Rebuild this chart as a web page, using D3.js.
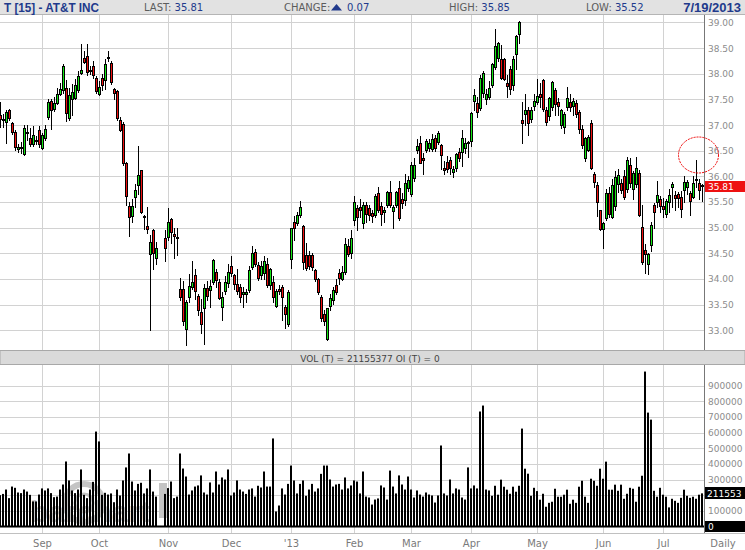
<!DOCTYPE html>
<html>
<head>
<meta charset="utf-8">
<script src="https://cdn.jsdelivr.net/npm/d3@7"></script>
<style>
  body { margin: 0; background: #fff; }
  svg { display: block; font-family: "DejaVu Sans", Verdana, sans-serif; }
</style>
</head>
<body>
<svg id="chart" width="745" height="550"></svg>
<script>
// T daily candles + volume

// trading calendar (Sandy closure days kept as empty slots)
const firstDay = new Date(2012, 7, 14);
const lastDay = new Date(2013, 6, 19);
const holidays = ["2012-09-03", "2012-11-22", "2012-12-25", "2013-01-01", "2013-01-21",
                  "2013-02-18", "2013-03-29", "2013-05-27", "2013-07-04"];

// [open, high, low, close], null = no trading
const candles = [
  [37.20,37.45,36.96,37.12],[37.10,37.22,36.96,37.12],[37.06,37.30,36.65,37.26],[37.29,37.31,37.10,37.14],
  [37.03,37.05,36.82,36.87],[36.87,36.90,36.52,36.57],[36.53,36.62,36.48,36.57],[36.55,36.66,36.45,36.57],
  [36.44,37.00,36.42,36.95],[36.84,37.00,36.70,36.86],[36.74,36.95,36.60,36.63],[36.63,36.98,36.60,36.80],
  [36.70,36.78,36.62,36.71],[36.90,36.98,36.58,36.62],[36.55,36.85,36.53,36.80],[36.75,37.00,36.70,36.93],
  [37.16,37.50,37.12,37.44],[37.46,37.50,36.92,37.29],[37.31,37.55,37.28,37.42],[37.42,37.72,37.40,37.61],
  [37.61,37.82,37.58,37.71],[37.68,38.18,37.62,38.15],[37.73,37.88,37.08,37.24],[37.13,37.72,37.10,37.58],
  [37.50,37.80,37.20,37.65],[37.53,37.90,37.50,37.77],[37.68,38.05,37.65,37.95],[38.02,38.58,38.00,38.08],
  [38.30,38.45,38.20,38.23],[38.34,38.58,37.98,38.03],[38.06,38.15,38.00,38.07],[38.15,38.25,37.92,37.98],
  [37.91,37.95,37.62,37.66],[37.61,37.85,37.58,37.74],[37.92,38.00,37.68,37.77],[37.87,38.28,37.70,38.19],
  [38.32,38.45,38.25,38.33],[38.20,38.25,37.80,37.84],[37.71,37.72,37.50,37.63],[37.66,37.68,37.10,37.13],
  [37.09,37.15,36.88,36.91],[37.02,37.05,36.22,36.25],[36.25,36.27,35.45,35.61],[35.42,35.50,34.84,35.20],
  [35.22,35.55,35.10,35.42],[35.59,35.85,35.40,35.73],[35.83,36.59,35.65,36.02],[36.12,36.13,35.28,35.31],
  [35.20,35.25,34.98,35.22],[35.03,35.40,34.90,34.97],[34.48,34.85,33.01,34.72],[34.95,34.97,34.20,34.50],
  [34.40,34.72,34.30,34.60],null,null,[34.80,34.95,34.35,34.60],
  [34.82,35.38,34.75,35.10],[35.16,35.18,34.70,34.92],[34.88,35.00,34.40,34.83],[34.82,35.00,34.47,34.80],
  [33.81,34.02,33.58,33.64],[33.81,33.95,33.10,33.18],[33.02,33.58,32.72,33.55],[33.65,34.10,33.55,33.87],
  [33.84,34.34,33.80,33.94],[34.07,34.20,33.60,33.77],[33.66,33.70,33.30,33.39],[33.36,33.60,32.95,33.13],
  [33.44,33.90,32.73,33.83],[33.83,33.95,33.58,33.66],[33.79,33.98,33.45,33.86],[33.94,34.38,33.90,34.36],
  [34.13,34.20,33.85,33.97],[33.94,34.00,33.60,33.62],[33.45,33.75,33.20,33.64],[33.77,34.05,33.70,33.93],
  [33.92,34.30,33.85,34.14],[34.25,34.45,34.05,34.12],[34.07,34.10,33.80,33.90],[33.91,34.20,33.70,33.77],
  [33.84,33.90,33.55,33.64],[33.70,33.85,33.45,33.74],[33.70,33.80,33.55,33.74],[33.79,34.25,33.75,34.17],
  [34.24,34.65,34.20,34.50],[34.52,34.58,34.25,34.30],[34.27,34.32,33.98,34.01],[34.07,34.35,34.00,34.25],
  [34.12,34.45,34.00,34.34],[34.30,34.40,33.85,33.89],[33.88,34.22,33.80,34.19],[33.94,34.05,33.55,33.65],
  [33.47,33.80,33.45,33.76],[33.80,33.88,33.70,33.77],[33.84,33.88,33.19,33.65],[33.46,33.50,33.05,33.31],
  [33.12,33.78,33.08,33.74],[34.38,35.00,34.21,35.00],[35.10,35.22,34.75,35.00],[35.09,35.30,35.05,35.24],
  [35.24,35.52,35.20,35.41],[35.03,35.05,34.20,34.33],[34.46,34.70,34.18,34.21],[34.46,34.55,34.20,34.25],
  [34.46,34.50,34.18,34.24],[34.17,34.20,33.95,34.00],[34.00,34.02,33.70,33.75],[33.64,33.68,33.18,33.23],
  [33.31,33.40,33.10,33.18],[32.82,33.44,32.80,33.44],[33.47,33.70,33.40,33.62],[33.59,33.85,33.52,33.79],
  [33.88,34.00,33.70,33.74],[34.12,34.20,33.90,34.01],[34.00,34.25,33.98,34.14],[34.14,34.80,34.10,34.69],
  [34.64,34.78,34.45,34.48],[34.50,34.95,34.40,34.79],[35.14,35.62,35.05,35.50],[35.39,35.45,34.95,35.21],
  [35.40,35.55,35.20,35.34],[35.08,35.50,35.00,35.44],[35.45,35.50,35.10,35.26],[35.39,35.45,35.15,35.24],
  [35.28,35.35,35.10,35.22],[35.24,35.65,35.20,35.61],[35.68,35.80,35.30,35.34],[35.43,35.50,35.05,35.27],
  [35.30,35.40,35.10,35.35],[35.45,35.72,35.40,35.70],[35.70,35.90,35.40,35.45],[35.33,35.45,35.00,35.41],
  [35.44,35.72,35.40,35.70],[35.78,35.90,35.15,35.18],[35.55,35.68,35.38,35.47],[35.53,36.05,35.45,35.86],
  [35.77,36.00,35.72,35.92],[35.66,36.28,35.62,36.22],[35.97,36.35,35.90,36.23],[36.51,36.72,36.45,36.59],
  [36.64,36.78,36.25,36.26],[36.36,36.45,36.05,36.32],[36.52,36.72,36.48,36.68],[36.56,36.72,36.50,36.65],
  [36.54,36.82,36.50,36.72],[36.74,36.80,36.50,36.56],[36.66,36.88,36.62,36.85],[36.61,36.62,36.15,36.41],
  [36.17,36.30,36.05,36.13],[36.28,36.40,36.08,36.14],[36.32,36.38,36.05,36.17],[36.09,36.20,35.98,36.15],
  [36.17,36.45,36.10,36.43],[36.47,36.55,36.30,36.36],[36.48,36.90,36.20,36.74],[36.55,36.75,36.45,36.65],
  [36.64,36.68,36.38,36.67],[36.68,37.25,36.60,37.24],[37.46,37.70,37.30,37.58],[37.42,37.55,37.15,37.26],
  [37.33,37.98,37.30,37.92],[37.63,38.05,37.55,38.02],[37.50,37.70,37.40,37.61],[37.55,37.85,37.50,37.73],
  [37.78,38.20,37.75,38.18],[38.13,38.88,38.10,38.54],[38.30,38.62,38.25,38.59],[38.28,38.55,37.90,37.92],
  [38.28,38.30,37.88,37.90],[37.81,37.98,37.55,37.76],[38.10,38.15,37.60,37.71],[37.78,38.35,37.68,38.28],
  [38.39,38.75,38.10,38.73],[38.78,39.02,38.60,39.01],[37.09,37.44,36.64,37.03],[37.22,37.60,37.00,37.29],
  [37.29,37.35,36.80,37.03],[37.11,37.35,37.05,37.30],[37.37,37.60,37.30,37.46],[37.44,37.90,37.40,37.56],
  [37.61,37.82,37.35,37.54],[37.87,37.90,37.28,37.32],[37.29,37.35,37.00,37.06],[37.17,37.55,37.10,37.52],
  [37.35,37.86,37.30,37.84],[37.68,37.72,37.20,37.41],[37.44,37.52,37.20,37.37],[37.00,37.32,36.95,37.30],
  [36.97,37.25,36.85,37.22],[37.35,37.75,37.30,37.53],[37.45,37.60,37.28,37.35],[37.38,37.52,37.20,37.46],
  [37.42,37.48,37.15,37.21],[37.25,37.30,36.85,36.93],[36.93,37.00,36.55,36.61],[36.35,36.76,36.30,36.74],
  [36.52,36.80,36.50,36.76],[37.04,37.10,36.15,36.17],[36.05,36.08,35.80,35.89],[35.84,35.88,35.22,35.50],
  [35.34,35.35,34.95,34.98],[34.98,35.10,34.60,35.08],[35.19,35.75,35.15,35.68],[35.67,35.80,35.20,35.26],
  [35.21,35.95,35.18,35.83],[35.42,36.10,35.35,35.99],[35.85,36.15,35.70,36.02],[35.86,35.95,35.68,35.74],
  [36.00,36.12,35.55,35.60],[35.76,36.38,35.70,36.31],[36.22,36.35,35.80,35.86],[35.76,36.10,35.55,36.07],
  [35.85,36.38,35.80,36.16],[36.07,36.12,35.22,35.24],[35.01,35.45,34.30,34.33],[34.56,34.68,34.12,34.48],
  [34.30,34.50,34.10,34.48],[34.66,35.10,34.55,35.05],[35.44,35.48,35.00,35.31],[35.50,35.90,35.40,35.63],
  [35.55,35.62,35.30,35.42],[35.42,35.58,35.20,35.36],[35.27,35.55,35.20,35.52],[35.49,35.75,35.30,35.63],
  [35.79,35.88,35.40,35.85],[35.63,35.72,35.35,35.58],[35.65,35.70,35.40,35.57],[35.60,35.72,35.20,35.37],
  [35.74,36.00,35.50,35.88],[35.80,35.92,35.65,35.88],[35.68,35.72,35.25,35.52],[35.60,36.00,35.58,35.87],
  [35.93,36.32,35.80,35.95],[35.87,35.95,35.55,35.74],[35.84,35.85,35.52,35.81]
];

// volume, thousands
const volumes = [
  200,208,236,181,255,247,217,213,236,223,202,160,160,204,243,230,243,213,187,191,
  236,268,415,294,230,213,236,364,202,181,236,285,606,543,202,215,204,211,155,236,
  198,294,377,466,287,230,272,279,211,243,364,223,191,null,null,208,245,287,181,191,
  466,370,319,204,230,255,262,326,217,204,281,217,351,268,313,300,364,198,217,294,
  236,223,208,236,243,191,260,249,351,255,255,562,96,134,243,204,272,389,294,211,
  272,294,196,236,272,223,243,336,389,389,300,255,268,272,236,313,243,262,294,287,
  211,351,191,185,140,172,179,262,249,172,357,255,211,326,268,236,319,236,185,230,
  204,191,217,204,198,153,198,517,211,198,300,211,243,236,185,172,377,243,262,243,
  734,772,236,230,196,260,203,299,254,235,209,254,222,260,625,369,337,196,247,226,
  171,209,126,151,158,241,190,190,203,235,145,171,151,254,292,190,151,305,292,260,
  369,305,414,235,235,267,228,267,177,209,247,241,158,254,324,989,727,682,228,190,
  247,203,190,122,177,164,151,183,235,196,183,190,177,203,211.553
];

const priceTicks = [33, 33.5, 34, 34.5, 35, 35.5, 36, 36.5, 37, 37.5, 38, 38.5, 39];
const volTicks = [100, 200, 300, 400, 500, 600, 700, 800, 900];
// 200000 sits under the last-volume box in the reference
const volLabels = [100, 300, 400, 500, 600, 700, 800, 900];
const monthLabels = ["Sep", "Oct", "Nov", "Dec", "'13", "Feb", "Mar", "Apr", "May", "Jun", "Jul"];

const lastPrice = 35.81, lastVol = 211.553;

const fmtDay = d3.timeFormat("%Y-%m-%d");
const days = d3.timeDay.range(firstDay, d3.timeDay.offset(lastDay, 1))
  .filter(d => d.getDay() % 6 !== 0 && !holidays.includes(fmtDay(d)));

const monthStarts = days.map((d, i) => i).filter(i => i > 0 && days[i].getMonth() !== days[i - 1].getMonth());

const svg = d3.select("#chart");
const plotRight = 704;
const pTop = 15, pBottom = 350, vTop = 365, vBottom = 533;
const gridColor = "#d2d2d2";
const blue = "#213a8c";

const x = d3.scaleBand().domain(d3.range(days.length)).range([-1, plotRight]);
const cx = i => x(i) + 1.5;
const y = d3.scaleLinear().domain([33, 39]).range([330.2, 22.4]);
const yv = d3.scaleLinear().domain([0, 900]).range([526.5, 385.5]);

svg.append("defs").append("clipPath").attr("id", "pclip")
  .append("rect").attr("x", 0).attr("y", pTop).attr("width", plotRight).attr("height", pBottom - pTop);

// header
svg.append("rect").attr("x", 0).attr("y", 0).attr("width", 745).attr("height", pTop).attr("fill", "#e2e2e2");
svg.append("line").attr("x1", 0).attr("x2", 745).attr("y1", pTop - 0.5).attr("y2", pTop - 0.5).attr("stroke", "#b5b5b5");

svg.append("text").attr("x", 4).attr("y", 12)
  .attr("font-family", "'Liberation Sans', Arial, sans-serif").attr("font-weight", "bold").attr("font-size", 13)
  .attr("textLength", 95).attr("lengthAdjust", "spacingAndGlyphs")
  .attr("fill", blue).text("T [15] - AT&T INC");

const headItems = [
  { x: 144, label: "LAST:", value: "35.81" },
  { x: 449, label: "HIGH:", value: "35.85" },
  { x: 586, label: "LOW:", value: "35.52" }
];
headItems.forEach(h => {
  const t = svg.append("text").attr("x", h.x).attr("y", 11).attr("font-size", 10);
  t.append("tspan").attr("fill", "#5c5c5c").text(h.label + " ");
  t.append("tspan").attr("fill", blue).text(h.value);
});
svg.append("text").attr("x", 284).attr("y", 11).attr("font-size", 10).attr("fill", "#5c5c5c").text("CHANGE:");
svg.append("path").attr("d", "M331,10.5 L342,10.5 L336.5,4 Z").attr("fill", blue);
svg.append("text").attr("x", 347).attr("y", 11).attr("font-size", 10).attr("fill", blue).text("0.07");
svg.append("text").attr("x", 741).attr("y", 12).attr("text-anchor", "end")
  .attr("font-family", "'Liberation Sans', Arial, sans-serif").attr("font-weight", "bold").attr("font-size", 13)
  .attr("fill", blue).text("7/19/2013");

// price grid
const pg = svg.append("g");
pg.selectAll("line.h").data(priceTicks).join("line")
  .attr("x1", 0).attr("x2", plotRight)
  .attr("y1", d => Math.round(y(d)) + 0.5).attr("y2", d => Math.round(y(d)) + 0.5)
  .attr("stroke", gridColor);
pg.selectAll("line.v").data(monthStarts).join("line")
  .attr("x1", d => cx(d)).attr("x2", d => cx(d))
  .attr("y1", pTop).attr("y2", pBottom)
  .attr("stroke", gridColor);

// candles
const bars = candles.map((c, i) => c ? { i, o: c[0], h: c[1], l: c[2], c: c[3] } : null).filter(d => d);
const cg = svg.append("g").attr("clip-path", "url(#pclip)");
cg.selectAll("line.wick").data(bars).join("line")
  .attr("x1", d => cx(d.i)).attr("x2", d => cx(d.i))
  .attr("y1", d => Math.round(y(d.h))).attr("y2", d => Math.round(y(d.l)) + 1)
  .attr("stroke", "#000");
cg.selectAll("rect.body").data(bars).join("rect")
  .attr("x", d => x(d.i) + 0.5)
  .attr("width", 2)
  .attr("y", d => Math.round(y(Math.max(d.o, d.c))) + 0.5)
  .attr("height", d => Math.max(1, Math.round(y(Math.min(d.o, d.c))) - Math.round(y(Math.max(d.o, d.c)))))
  .attr("fill", d => d.c >= d.o ? "#14e614" : "#ee1111")
  .attr("stroke", "#000").attr("stroke-width", 1);

// price axis
svg.append("line").attr("x1", plotRight + 0.5).attr("x2", plotRight + 0.5).attr("y1", pTop).attr("y2", pBottom)
  .attr("stroke", "#777");
svg.selectAll("text.pl").data(priceTicks).join("text")
  .attr("x", 708).attr("y", d => y(d) + 3.5)
  .attr("font-size", 9).attr("fill", "#8c8c8c")
  .text(d => d.toFixed(2));
svg.append("rect").attr("x", 705).attr("y", Math.round(y(lastPrice)) - 5).attr("width", 40).attr("height", 11)
  .attr("fill", "#ee1111");
svg.append("text").attr("x", 708).attr("y", y(lastPrice) + 4)
  .attr("font-size", 9).attr("fill", "#fff").text(lastPrice.toFixed(2));

// red marker circle
svg.append("ellipse").attr("cx", 698.5).attr("cy", 155).attr("rx", 20).attr("ry", 18)
  .attr("fill", "none").attr("stroke", "#e00").attr("stroke-width", 1).attr("stroke-dasharray", "2,1");

// volume header
svg.append("rect").attr("x", 0).attr("y", pBottom + 0.5).attr("width", 745).attr("height", vTop - pBottom - 1)
  .attr("fill", "#dadada").attr("stroke", "#a8a8a8");
svg.append("text").attr("x", 370).attr("y", 361.5).attr("text-anchor", "middle")
  .attr("font-size", 9).attr("fill", "#444").text("VOL (T) = 21155377 OI (T) = 0");

// volume grid
const vg = svg.append("g");
vg.selectAll("line.h").data(volTicks).join("line")
  .attr("x1", 0).attr("x2", plotRight)
  .attr("y1", d => Math.round(yv(d)) + 0.5).attr("y2", d => Math.round(yv(d)) + 0.5)
  .attr("stroke", gridColor);
vg.selectAll("line.v").data(monthStarts).join("line")
  .attr("x1", d => cx(d)).attr("x2", d => cx(d))
  .attr("y1", vTop).attr("y2", vBottom)
  .attr("stroke", gridColor);

// faint watermark
const wm = svg.append("g").attr("fill", "none").attr("stroke", "#c4c4c4");
wm.append("circle").attr("cx", 84).attr("cy", 503).attr("r", 19).attr("stroke-width", 6);
wm.append("circle").attr("cx", 84).attr("cy", 503).attr("r", 9).attr("stroke-width", 3);
svg.append("text").attr("x", 30).attr("y", 522).attr("font-family", "'Liberation Sans', Arial, sans-serif")
  .attr("font-weight", "bold").attr("font-size", 30).attr("fill", "#c8c8c8").text("barchart");
svg.append("rect").attr("x", 159).attr("y", 483).attr("width", 8).attr("height", 35).attr("fill", "#c4c4c4");

// volume bars
const vbars = volumes.map((v, i) => v == null ? null : { i, v }).filter(d => d);
svg.append("g").selectAll("rect").data(vbars).join("rect")
  .attr("x", d => x(d.i))
  .attr("width", 2)
  .attr("y", d => yv(d.v))
  .attr("height", d => yv(0) - yv(d.v))
  .attr("fill", "#000");
svg.append("line").attr("x1", 0).attr("x2", plotRight).attr("y1", yv(0)).attr("y2", yv(0))
  .attr("stroke", "#000").attr("stroke-width", 2);

// volume axis
svg.append("line").attr("x1", plotRight + 0.5).attr("x2", plotRight + 0.5).attr("y1", vTop).attr("y2", vBottom)
  .attr("stroke", "#777");
svg.selectAll("text.vl").data(volLabels).join("text")
  .attr("x", 708).attr("y", d => yv(d) + 3.5)
  .attr("font-size", 9).attr("fill", "#8c8c8c")
  .text(d => String(d * 1000));
svg.append("rect").attr("x", 705).attr("y", Math.round(yv(lastVol)) - 6).attr("width", 40).attr("height", 12)
  .attr("fill", "#000");
svg.append("text").attr("x", 707).attr("y", yv(lastVol) + 3.5)
  .attr("font-size", 9).attr("fill", "#fff").text(String(Math.round(lastVol * 1000)));
svg.append("rect").attr("x", 705).attr("y", 521).attr("width", 40).attr("height", 11).attr("fill", "#000");
svg.append("text").attr("x", 708).attr("y", 530).attr("font-size", 9).attr("fill", "#fff").text("0");

// bottom axis
svg.append("line").attr("x1", 0).attr("x2", 745).attr("y1", vBottom + 0.5).attr("y2", vBottom + 0.5)
  .attr("stroke", "#c0c0c0");
svg.selectAll("text.ml").data(monthStarts).join("text")
  .attr("x", d => cx(d)).attr("y", 546.5).attr("text-anchor", "middle")
  .attr("font-size", 10).attr("fill", "#7a7a7a")
  .text((d, k) => monthLabels[k]);
svg.append("text").attr("x", 723).attr("y", 546.5).attr("text-anchor", "middle")
  .attr("font-size", 10).attr("fill", "#7a7a7a").text("Daily");
</script>
</body>
</html>
